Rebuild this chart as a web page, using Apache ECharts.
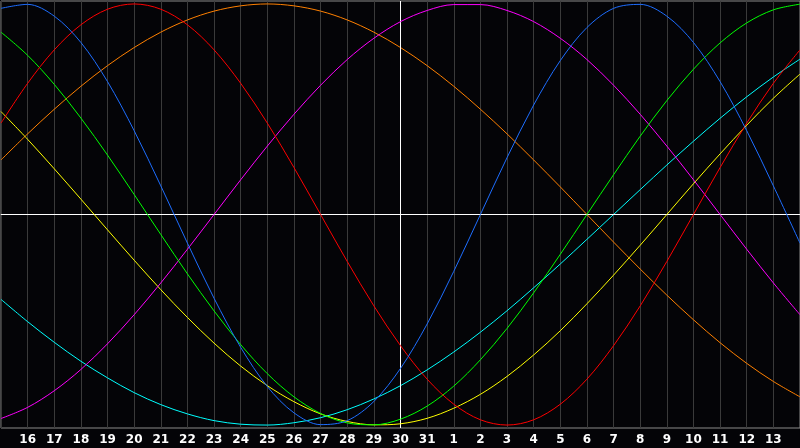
<!DOCTYPE html>
<html>
<head>
<meta charset="utf-8">
<script src="https://cdn.jsdelivr.net/npm/echarts@6/dist/echarts.min.js"></script>
<style>
html,body{margin:0;padding:0;background:#040407;}
#c{width:800px;height:448px;}
</style>
</head>
<body>
<div id="c"></div>
<script>
// Day labels (day 15 of month 1 through day 14 of month 2)
var days = ['15','16','17','18','19','20','21','22','23','24','25','26','27','28','29','30','31',
            '1','2','3','4','5','6','7','8','9','10','11','12','13','14'];
var todayLabel = '30';

// Cycle values, one per day
var blue23 = [0.979,0.998,0.942,0.817,0.631,0.398,0.136,-0.136,-0.398,-0.631,-0.817,-0.942,-0.998,-0.979,-0.888,-0.731,-0.520,-0.270,
              0.000,0.270,0.520,0.731,0.888,0.979,0.998,0.942,0.817,0.631,0.398,0.136,-0.136];
var red28 = [0.434,0.623,0.782,0.901,0.975,1.000,0.975,0.901,0.782,0.623,0.434,0.223,0.000,-0.223,-0.434,-0.623,-0.782,
             -0.901,-0.975,-1.000,-0.975,-0.901,-0.782,-0.623,-0.434,-0.223,0.000,0.223,0.434,0.623,0.782];
var green33 = [0.866,0.756,0.618,0.458,0.282,0.095,-0.095,-0.282,-0.458,-0.618,-0.756,-0.866,-0.945,-0.990,-0.999,-0.972,-0.910,
               -0.815,-0.690,-0.541,-0.372,-0.189,0.000,0.189,0.372,0.541,0.690,0.815,0.910,0.972,0.999];
var magenta38 = [-0.969,-0.916,-0.837,-0.736,-0.614,-0.476,-0.325,-0.165,0.000,0.165,0.325,0.476,0.614,0.736,0.837,0.916,0.969,
                 0.997,0.997,0.969,0.916,0.837,0.736,0.614,0.476,0.325,0.165,0.000,-0.165,-0.325,-0.476];
var yellow43 = [0.489,0.357,0.217,0.073,-0.073,-0.217,-0.357,-0.489,-0.611,-0.720,-0.813,-0.889,-0.947,-0.983,-0.999,-0.994,-0.968,
                -0.920,-0.854,-0.769,-0.667,-0.552,-0.424,-0.288,-0.146,0.000,0.146,0.288,0.424,0.552,0.667];
var orange48 = [0.259,0.383,0.500,0.609,0.707,0.793,0.866,0.924,0.966,0.991,1.000,0.991,0.966,0.924,0.866,0.793,0.707,
                0.609,0.500,0.383,0.259,0.131,0.000,-0.131,-0.259,-0.383,-0.500,-0.609,-0.707,-0.793,-0.866];
var cyan53 = [-0.403,-0.509,-0.607,-0.697,-0.776,-0.846,-0.903,-0.947,-0.979,-0.996,-1.000,-0.989,-0.965,-0.927,-0.876,-0.813,-0.738,
              -0.653,-0.559,-0.457,-0.348,-0.235,-0.118,0.000,0.118,0.235,0.348,0.457,0.559,0.653,0.738];

var seriesDefs = [
  {name:'orange', data:orange48, color:'#ff8000'},
  {name:'cyan', data:cyan53, color:'#00ffff'},
  {name:'yellow', data:yellow43, color:'#ffff00'},
  {name:'magenta', data:magenta38, color:'#ff00ff'},
  {name:'green', data:green33, color:'#00ff00'},
  {name:'red', data:red28, color:'#ff0000'},
  {name:'blue', data:blue23, color:'#1e6eff'}
];

var chart = echarts.init(document.getElementById('c'), null, {renderer:'canvas'});
var series = seriesDefs.map(function(s, i){
  return {
    name: s.name, type:'line', data: s.data, smooth: 0.33, showSymbol:false, symbol:'none',
    lineStyle:{color:s.color, width:1}, itemStyle:{color:s.color}, z: 3 + i
  };
});
series.unshift({
  name:'ref', type:'line', data:[], z:2,
  markLine:{
    silent:true, symbol:['none','none'], animation:false,
    label:{show:false},
    lineStyle:{color:'#ffffff', width:1, type:'solid'},
    data:[{yAxis:0},{xAxis:todayLabel}]
  }
});

chart.setOption({
  backgroundColor:'#040407',
  animation:false,
  grid:{left:1, right:0, top:1, bottom:20, show:true, borderColor:'#8a8a8a', borderWidth:1, backgroundColor:'transparent'},
  xAxis:{
    type:'category', data:days, boundaryGap:false,
    axisLine:{show:true, lineStyle:{color:'#a0a0a0', width:1}},
    axisTick:{show:false},
    axisLabel:{
      color:'#ffffff', fontFamily:'DejaVu Sans', fontWeight:'bold', fontSize:12, margin:6,
      interval:function(idx){ return idx !== 0 && idx !== days.length-1; }
    },
    splitLine:{show:true, interval:0, lineStyle:{color:'#3a3a3a', width:1}}
  },
  yAxis:{
    type:'value', min:-1.014, max:1.014,
    axisLine:{show:false}, axisTick:{show:false}, axisLabel:{show:false},
    splitLine:{show:false}
  },
  series: series
});
</script>
</body>
</html>
